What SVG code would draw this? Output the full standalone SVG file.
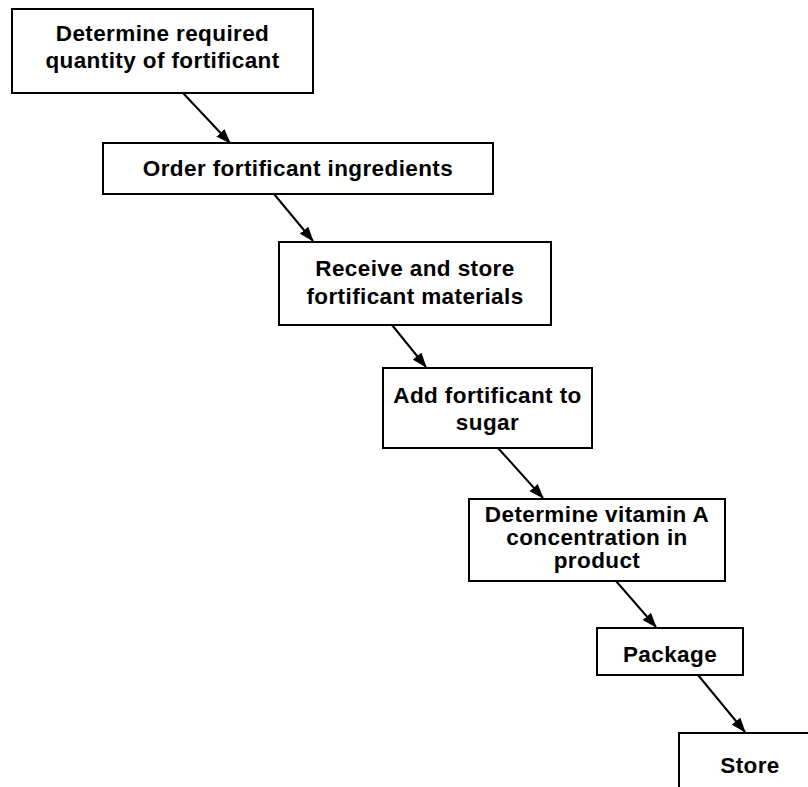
<svg xmlns="http://www.w3.org/2000/svg" width="808" height="787" viewBox="0 0 808 787">
  <defs>
    <marker id="arrow" markerUnits="userSpaceOnUse" markerWidth="15" markerHeight="12" refX="14" refY="6" orient="auto">
      <path d="M0,0.5 L15,6 L0,11.5 Z" fill="#000"/>
    </marker>
    <style>
      .box { fill: #fff; stroke: #000; stroke-width: 2; }
      .lbl { font-family: "Liberation Sans", Arial, sans-serif; font-weight: bold; font-size: 22.5px; fill: #000; text-anchor: middle; letter-spacing: 0.4px; }
      .conn { stroke: #000; stroke-width: 2; fill: none; marker-end: url(#arrow); }
    </style>
  </defs>
  <rect width="808" height="787" fill="#fff"/>

  <g id="connectors">
    <line class="conn" x1="183" y1="93" x2="230" y2="143"/>
    <line class="conn" x1="274" y1="194" x2="313" y2="241"/>
    <line class="conn" x1="392" y1="325" x2="426" y2="367"/>
    <line class="conn" x1="498" y1="448" x2="543" y2="498"/>
    <line class="conn" x1="616" y1="581" x2="656" y2="627"/>
    <line class="conn" x1="698" y1="675" x2="745" y2="732"/>
  </g>

  <g id="n1">
    <rect class="box" x="12" y="9" width="301" height="84"/>
    <text class="lbl" x="162.5" y="41">Determine required</text>
    <text class="lbl" x="162.5" y="68">quantity of fortificant</text>
  </g>

  <g id="n2">
    <rect class="box" x="103" y="143" width="390" height="51"/>
    <text class="lbl" x="298" y="176">Order fortificant ingredients</text>
  </g>

  <g id="n3">
    <rect class="box" x="279" y="242" width="272" height="83"/>
    <text class="lbl" x="415" y="276">Receive and store</text>
    <text class="lbl" x="415" y="304">fortificant materials</text>
  </g>

  <g id="n4">
    <rect class="box" x="383" y="368" width="209" height="80"/>
    <text class="lbl" x="487.5" y="403">Add fortificant to</text>
    <text class="lbl" x="487.5" y="430">sugar</text>
  </g>

  <g id="n5">
    <rect class="box" x="469" y="499" width="256" height="82"/>
    <text class="lbl" x="597" y="522">Determine vitamin A</text>
    <text class="lbl" x="597" y="545">concentration in</text>
    <text class="lbl" x="597" y="568">product</text>
  </g>

  <g id="n6">
    <rect class="box" x="597" y="628" width="146" height="47"/>
    <text class="lbl" x="670" y="662">Package</text>
  </g>

  <g id="n7">
    <rect class="box" x="679" y="733" width="142" height="80"/>
    <text class="lbl" x="750" y="773">Store</text>
  </g>
</svg>
